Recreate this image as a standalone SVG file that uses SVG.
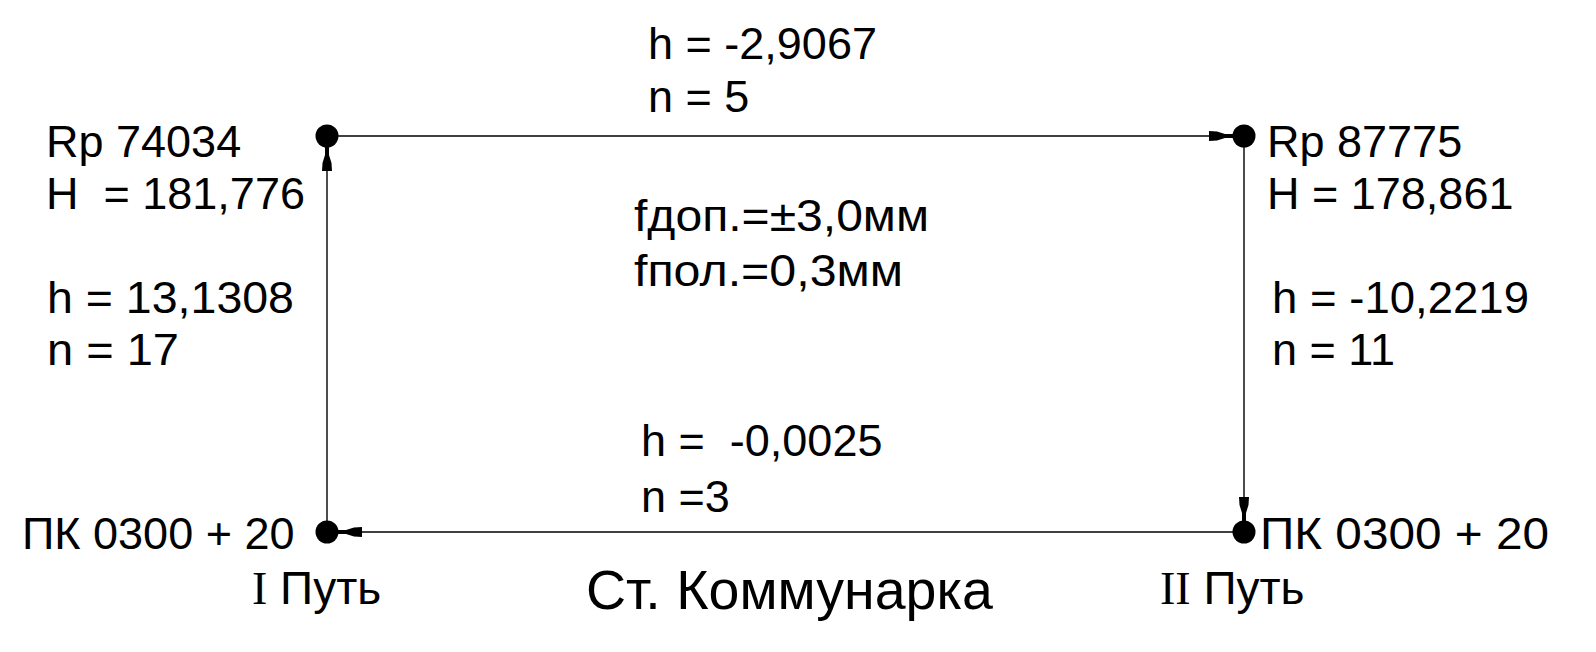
<svg xmlns="http://www.w3.org/2000/svg" xmlns:xlink="http://www.w3.org/1999/xlink" width="1596" height="652" viewBox="0 0 1596 652">
<style>
.t{font-family:"Liberation Sans",Arial,sans-serif;font-size:45px;fill:#000}
.s{font-family:"Liberation Serif","Times New Roman",serif}
.ln{stroke:#000;stroke-width:1.4;fill:none}
.dot{fill:#000}
</style>
<defs>
<path id="arr" d="M-35,-5 L-27,-4.5 L-19,-2 L-8,-2 L-8,2 L-19,2 L-27,4.5 L-35,5 Z" fill="#000"/>
</defs>
<rect width="1596" height="652" fill="#fff"/>
<g id="connectors">
<line class="ln" x1="327" y1="136" x2="1244" y2="136"/>
<line class="ln" x1="1244" y1="136" x2="1244" y2="532"/>
<line class="ln" x1="1244" y1="532" x2="327" y2="532"/>
<line class="ln" x1="327" y1="532" x2="327" y2="136"/>
<use xlink:href="#arr" transform="translate(1244,136)"/>
<use xlink:href="#arr" transform="translate(1244,532) rotate(90)"/>
<use xlink:href="#arr" transform="translate(327,532) rotate(180)"/>
<use xlink:href="#arr" transform="translate(327,136) rotate(-90)"/>
<text class="t" x="648" y="59">h = -2,9067</text>
<text class="t" x="648" y="112">n = 5</text>
<text class="t" x="1272" y="313" textLength="257" lengthAdjust="spacingAndGlyphs">h = -10,2219</text>
<text class="t" x="1272" y="365">n = 11</text>
<text class="t" x="641" y="456" xml:space="preserve">h =  -0,0025</text>
<text class="t" x="641" y="512">n =3</text>
<text class="t" x="47" y="313" textLength="247" lengthAdjust="spacingAndGlyphs">h = 13,1308</text>
<text class="t" x="47" y="365" textLength="132" lengthAdjust="spacingAndGlyphs">n = 17</text>
</g>
<g id="node-rp74034">
<circle class="dot" cx="327" cy="136" r="11.5"/>
<text class="t" x="46" y="157">Rp 74034</text>
<text class="t" x="46" y="209" xml:space="preserve">H  = 181,776</text>
</g>
<g id="node-rp87775">
<circle class="dot" cx="1244" cy="136" r="11.5"/>
<text class="t" x="1267" y="157">Rp 87775</text>
<text class="t" x="1267" y="209">H = 178,861</text>
</g>
<g id="node-pk-right">
<circle class="dot" cx="1244" cy="532" r="11.5"/>
<text class="t" x="1260" y="549" textLength="289" lengthAdjust="spacingAndGlyphs">ПК 0300 + 20</text>
<text class="t" x="1160" y="604" style="font-size:46px"><tspan class="s">II</tspan> Путь</text>
</g>
<g id="node-pk-left">
<circle class="dot" cx="327" cy="532" r="11.5"/>
<text class="t" x="22" y="549">ПК 0300 + 20</text>
<text class="t" x="252" y="604" style="font-size:46px"><tspan class="s">I</tspan> Путь</text>
</g>
<g id="info">
<text class="t" x="634" y="231" textLength="295" lengthAdjust="spacingAndGlyphs">fдоп.=±3,0мм</text>
<text class="t" x="634" y="286" textLength="269" lengthAdjust="spacingAndGlyphs">fпол.=0,3мм</text>
<text class="t" x="586" y="609" style="font-size:55.5px">Ст. Коммунарка</text>
</g>
</svg>
